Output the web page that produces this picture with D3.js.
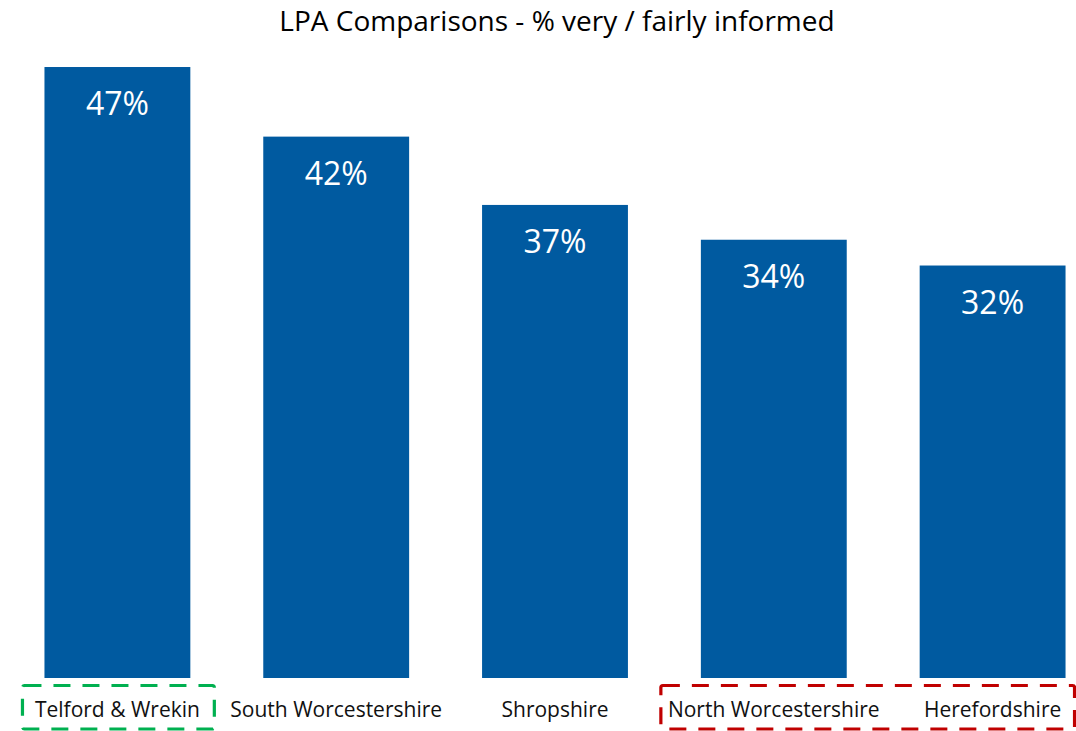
<!DOCTYPE html>
<html>
<head>
<meta charset="utf-8">
<script src="https://cdn.jsdelivr.net/npm/d3@7"></script>
<style>
  body { margin: 0; background: #fff; }
  svg { display: block; font-family: "Open Sans", sans-serif; }
</style>
</head>
<body>
<div id="chart"></div>
<script>
// data
const areas = ['Telford & Wrekin', 'South Worcestershire', 'Shropshire', 'North Worcestershire', 'Herefordshire'];
const informed = [47.4, 42.0, 36.7, 34.0, 32.0];
const labels = ['47%', '42%', '37%', '34%', '32%'];
const title = 'LPA Comparisons - % very / fairly informed';

// which areas get a dashed box round their label
const boxGroups = [
    {first: 'Telford & Wrekin', last: 'Telford & Wrekin', colour: '#00B050', padL: 22, padR: 24},
    {first: 'North Worcestershire', last: 'Herefordshire', colour: '#C00000', padL: 40, padR: 9}
];

const width = 1076, height = 731;
const barColour = '#005AA0';

const svg = d3.select('#chart')
    .append('svg')
    .attr('width', width)
    .attr('height', height);

const x = d3.scaleBand()
    .domain(areas)
    .range([8, 1102])
    .paddingInner(1 / 3)
    .paddingOuter(1 / 6);

const y = d3.scaleLinear()
    .domain([0, 50])
    .range([678, 33.5]);

const rows = areas.map((a, i) => ({area: a, value: informed[i], label: labels[i]}));

svg.append('text')
    .attr('x', 557)
    .attr('y', 31)
    .attr('text-anchor', 'middle')
    .attr('font-size', 28)
    .attr('fill', '#000')
    .text(title);

svg.selectAll('rect.bar')
    .data(rows)
    .join('rect')
    .attr('class', 'bar')
    .attr('x', d => x(d.area))
    .attr('y', d => y(d.value))
    .attr('width', x.bandwidth())
    .attr('height', d => y(0) - y(d.value))
    .attr('fill', barColour);

svg.selectAll('text.val')
    .data(rows)
    .join('text')
    .attr('class', 'val')
    .attr('x', d => x(d.area) + x.bandwidth() / 2)
    .attr('y', d => y(d.value) + 48)
    .attr('text-anchor', 'middle')
    .attr('font-size', 32)
    .attr('fill', '#fff')
    .text(d => d.label);

svg.selectAll('text.cat')
    .data(rows)
    .join('text')
    .attr('class', 'cat')
    .attr('x', d => x(d.area) + x.bandwidth() / 2)
    .attr('y', 717)
    .attr('text-anchor', 'middle')
    .attr('font-size', 21)
    .attr('fill', '#111')
    .text(d => d.area);

// dashed highlight boxes
svg.selectAll('rect.box')
    .data(boxGroups)
    .join('rect')
    .attr('class', 'box')
    .attr('x', d => x(d.first) - d.padL)
    .attr('y', 685.5)
    .attr('width', d => x(d.last) + x.bandwidth() + d.padR - (x(d.first) - d.padL))
    .attr('height', 43.5)
    .attr('rx', 2)
    .attr('fill', 'none')
    .attr('stroke', d => d.colour)
    .attr('stroke-width', 3.2)
    .attr('stroke-dasharray', '17 12');
</script>
</body>
</html>
